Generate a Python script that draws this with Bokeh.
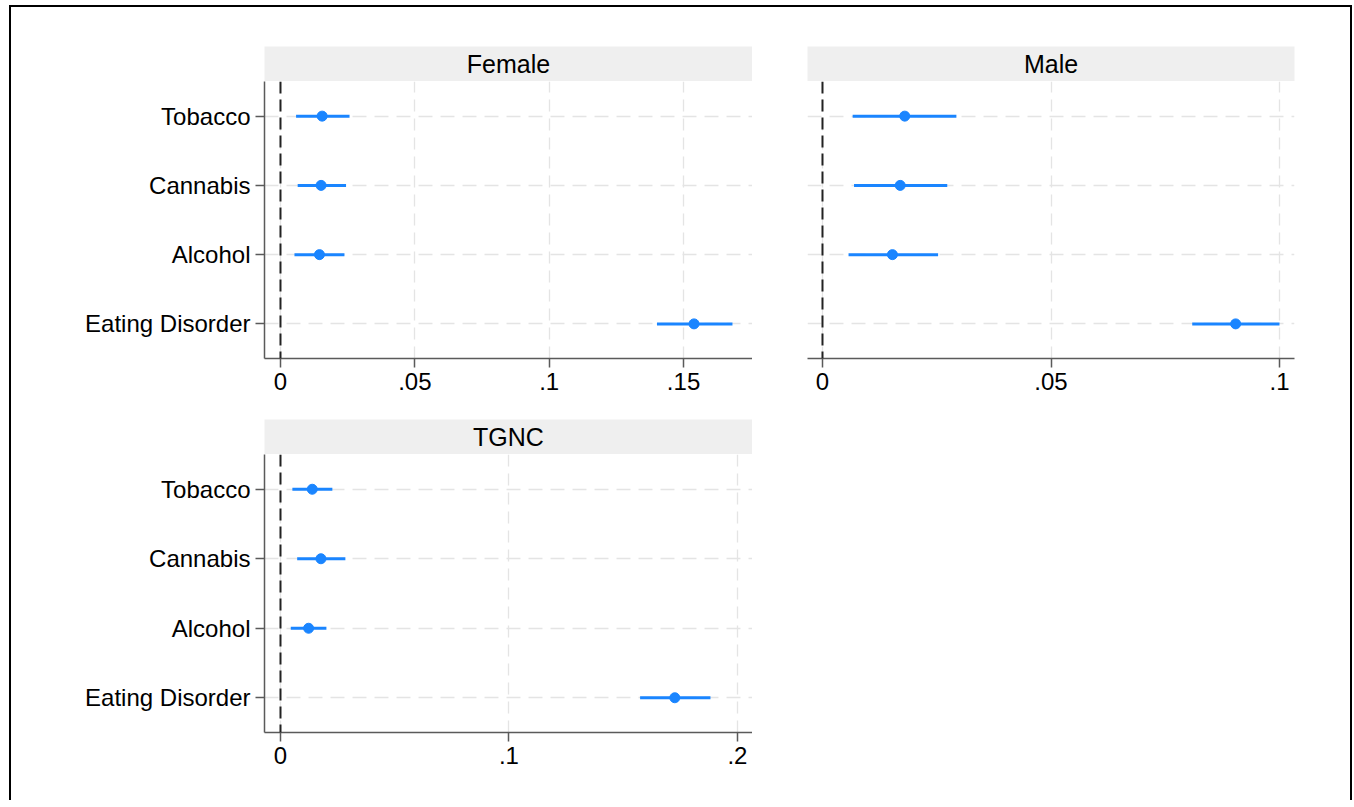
from bokeh.plotting import figure
from bokeh.models import Range1d, FactorRange, Span
from bokeh.layouts import row, column
from bokeh.core.properties import value
from bokeh.embed import file_html
from bokeh.resources import INLINE

# ---------------- data ----------------
categories = ["Tobacco", "Cannabis", "Alcohol", "Eating Disorder"]

female_est = [0.0155, 0.0151, 0.0145, 0.1539]
female_lo = [0.0058, 0.0064, 0.0052, 0.1401]
female_hi = [0.0257, 0.0244, 0.0238, 0.1682]

male_est = [0.0180, 0.0170, 0.0153, 0.0904]
male_lo = [0.0066, 0.0069, 0.0057, 0.0809]
male_hi = [0.0293, 0.0273, 0.0253, 0.1000]

tgnc_est = [0.0139, 0.0177, 0.0123, 0.1726]
tgnc_lo = [0.0052, 0.0073, 0.0045, 0.1574]
tgnc_hi = [0.0227, 0.0284, 0.0201, 0.1882]

female_ticks = [0, 0.05, 0.1, 0.15]
female_tick_labels = ["0", ".05", ".1", ".15"]
male_ticks = [0, 0.05, 0.1]
male_tick_labels = ["0", ".05", ".1"]
tgnc_ticks = [0, 0.1, 0.2]
tgnc_tick_labels = ["0", ".1", ".2"]

panel_titles = ["Female", "Male", "TGNC"]

# ---------------- style ----------------
FONT = "Liberation Sans"
BLUE = "#1a85ff"
AXIS = "#5a5a5a"
GRID = "#e4e4e4"
HEADER_BG = "#efefef"


def header(title, frame_w, left, right, top):
    h = figure(frame_width=frame_w, frame_height=35,
               x_range=Range1d(0, 1), y_range=Range1d(0, 1),
               x_axis_location=None, y_axis_location=None,
               toolbar_location=None, output_backend="svg",
               min_border_left=left, min_border_right=right,
               min_border_top=top, min_border_bottom=0)
    h.grid.grid_line_color = None
    h.background_fill_color = HEADER_BG
    h.border_fill_color = "white"
    h.outline_line_color = None
    h.text(x=[0.5], y=[0.5], text=[title], text_align="center",
           text_baseline="middle", text_font=value(FONT),
           text_font_size="25px", text_color="black")
    return h


def panel(est, lo, hi, xr, ticks, tick_labels, frame_w, frame_h,
          left, right, bottom, show_y):
    p = figure(frame_width=frame_w, frame_height=frame_h,
               x_range=Range1d(*xr),
               y_range=FactorRange(factors=list(reversed(categories))),
               toolbar_location=None, output_backend="svg",
               min_border_left=left, min_border_right=right,
               min_border_top=0, min_border_bottom=bottom)
    p.outline_line_color = None
    p.background_fill_color = "white"
    p.border_fill_color = "white"

    p.xaxis.ticker = ticks
    p.xaxis.major_label_overrides = {t: l for t, l in zip(ticks, tick_labels)}
    for ax in (p.xaxis, p.yaxis):
        ax.axis_line_color = AXIS
        ax.axis_line_width = 1.5
        ax.major_tick_line_color = AXIS
        ax.major_tick_line_width = 1.5
        ax.major_tick_in = 0
        ax.major_tick_out = 9
        ax.minor_tick_line_color = None
        ax.major_label_text_font = FONT
        ax.major_label_text_font_size = "24px"
        ax.major_label_text_color = "black"
    p.xaxis.major_label_standoff = 5
    p.yaxis.major_label_standoff = 5
    if not show_y:
        p.yaxis.visible = False

    p.xgrid.grid_line_color = GRID
    p.xgrid.grid_line_dash = "12 7"
    p.xgrid.grid_line_width = 1.3
    p.ygrid.grid_line_color = GRID
    p.ygrid.grid_line_dash = "14 8"
    p.ygrid.grid_line_width = 1.3

    p.add_layout(Span(location=0, dimension="height", line_color="#222222",
                      line_width=2, line_dash="12 6"))

    p.segment(x0=lo, y0=categories, x1=hi, y1=categories,
              line_color=BLUE, line_width=3)
    p.scatter(x=est, y=categories, size=10, fill_color=BLUE,
              line_color=BLUE)
    return p


h1 = header(panel_titles[0], 488, 253, 0, 39)
p1 = panel(female_est, female_lo, female_hi, (-0.00595, 0.17566),
           female_ticks, female_tick_labels, 488, 277, 253, 0, 61, True)
h3 = header(panel_titles[2], 488, 253, 0, 0)
p3 = panel(tgnc_est, tgnc_lo, tgnc_hi, (-0.0070, 0.2066),
           tgnc_ticks, tgnc_tick_labels, 488, 278, 253, 0, 68, True)

h2 = header(panel_titles[1], 487, 55, 56, 39)
p2 = panel(male_est, male_lo, male_hi, (-0.00328, 0.10328),
           male_ticks, male_tick_labels, 487, 277, 55, 56, 61, False)

col1 = column(h1, p1, h3, p3, spacing=0)
col2 = column(h2, p2, spacing=0)
layout = row(col1, col2, spacing=0,
             styles={"margin-left": "9px",
                     "margin-top": "5px",
                     "border-left": "2px solid black",
                     "border-top": "2px solid black",
                     "border-right": "2px solid black"})

open("out.html", "w").write(file_html(layout, INLINE))
